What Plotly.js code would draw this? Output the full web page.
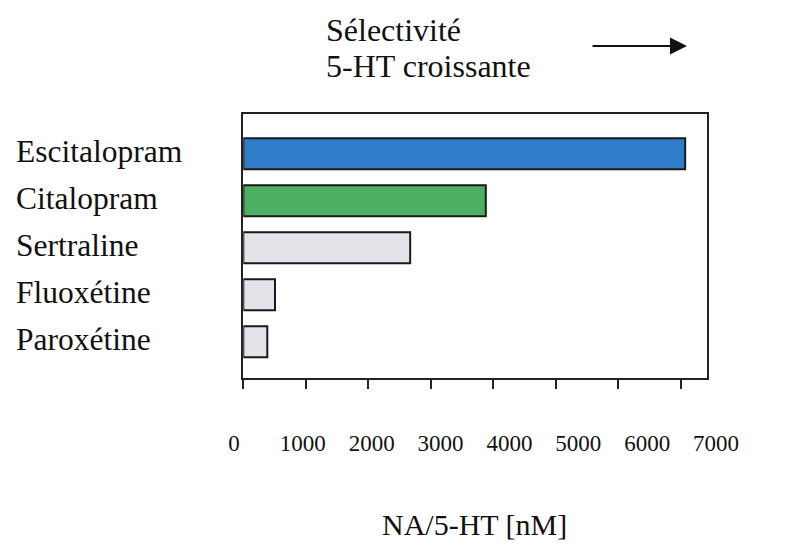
<!DOCTYPE html>
<html>
<head>
<meta charset="utf-8">
<script src="https://cdn.plot.ly/plotly-3.0.1.min.js"></script>
<style>html,body{margin:0;padding:0;background:#fff;}#chart{width:785px;height:548px;}</style>
</head>
<body>
<div id="chart"></div>
<script>
// ---- data ----
const categories = ['Escitalopram', 'Citalopram', 'Sertraline', 'Fluoxétine', 'Paroxétine'];
const values = [7070, 3880, 2670, 507, 384];
const barColors = ['#2f7cc8', '#4caf62', '#e4e3ea', '#e4e3ea', '#e4e3ea'];
const tickValues = [0, 1000, 2000, 3000, 4000, 5000, 6000, 7000];
const tickLabels = ['0', '1000', '2000', '3000', '4000', '5000', '6000', '7000'];
const titleLines = ['Sélectivité', '5-HT croissante'];
const axisTitle = 'NA/5-HT [nM]';

const FONT = '"Liberation Serif", "Times New Roman", serif';
const W = 785, H = 548;
const px = v => v / W;
const py = v => 1 - v / H;

const traces = [
  {
    type: 'bar',
    orientation: 'h',
    y: categories,
    x: values,
    width: 0.66,
    marker: { color: barColors, line: { color: '#1a1a1a', width: 2 } },
    hoverinfo: 'x+y',
    showlegend: false
  },
  {
    type: 'scatter', x: [], y: [], xaxis: 'x2', yaxis: 'y',
    hoverinfo: 'skip', showlegend: false
  }
];

const annotations = [];
categories.forEach((c, i) => {
  annotations.push({
    text: c, xref: 'paper', yref: 'y', x: px(14), y: i,
    xanchor: 'left', yanchor: 'middle', showarrow: false, yshift: 2,
    font: { family: FONT, size: 31.5, color: '#111' }
  });
});
annotations.push({
  text: titleLines[0], xref: 'paper', yref: 'paper', x: px(324), y: py(30),
  xanchor: 'left', yanchor: 'middle', showarrow: false,
  font: { family: FONT, size: 32, color: '#111' }
});
annotations.push({
  text: titleLines[1], xref: 'paper', yref: 'paper', x: px(324), y: py(66),
  xanchor: 'left', yanchor: 'middle', showarrow: false,
  font: { family: FONT, size: 32, color: '#111' }
});
annotations.push({
  text: '', xref: 'paper', yref: 'paper', x: px(687), y: py(46),
  axref: 'pixel', ayref: 'pixel', ax: -96, ay: 0,
  showarrow: true, arrowhead: 2, arrowsize: 1.7, arrowwidth: 2, arrowcolor: '#111'
});
annotations.push({
  text: axisTitle, xref: 'paper', yref: 'paper', x: px(474), y: py(524),
  xanchor: 'center', yanchor: 'middle', showarrow: false,
  font: { family: FONT, size: 30, color: '#111' }
});

const layout = {
  width: W, height: H,
  margin: { l: 0, r: 0, t: 0, b: 0, pad: 0 },
  paper_bgcolor: '#fff', plot_bgcolor: 'rgba(0,0,0,0)',
  showlegend: false,
  xaxis: {
    domain: [243.3 / W, 707.3 / W],
    range: [0, 7424],
    tickmode: 'array', tickvals: tickValues,
    ticks: 'outside', ticklen: 9, tickwidth: 2, tickcolor: '#222',
    showticklabels: false,
    showline: true, mirror: true, linecolor: '#222', linewidth: 2,
    showgrid: false, zeroline: false, fixedrange: true
  },
  xaxis2: {
    domain: [234 / W, 716 / W],
    range: [0, 7000],
    anchor: 'free', position: py(427),
    tickmode: 'array', tickvals: tickValues, ticktext: tickLabels,
    ticks: '', showline: false, showgrid: false, zeroline: false,
    tickfont: { family: FONT, size: 23, color: '#111' }, fixedrange: true
  },
  yaxis: {
    domain: [py(378.3), py(114)],
    type: 'category',
    categoryorder: 'array', categoryarray: categories,
    range: [4.78, -0.845],
    showticklabels: false, ticks: '',
    showline: true, mirror: true, linecolor: '#222', linewidth: 2,
    showgrid: false, zeroline: false, fixedrange: true
  },
  annotations: annotations
};

Plotly.newPlot('chart', traces, layout, { displayModeBar: false, staticPlot: true });
</script>
</body>
</html>
